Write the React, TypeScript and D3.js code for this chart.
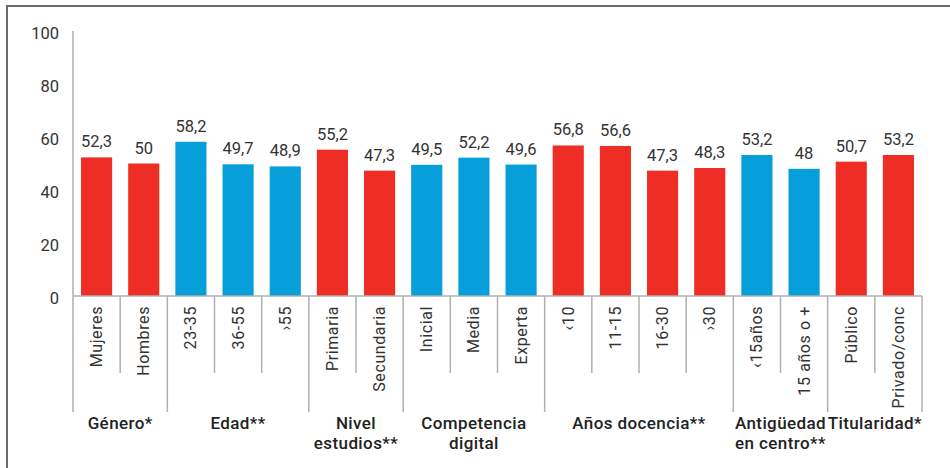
import React from "react";
import * as d3 from "d3";

const categories = ["Mujeres","Hombres","23-35","36-55","›55","Primaria","Secundaria","Inicial","Media","Experta","‹10","11-15","16-30","›30","‹15años","15 años o +","Público","Privado/conc"];
const values = [52.3,50,58.2,49.7,48.9,55.2,47.3,49.5,52.2,49.6,56.8,56.6,47.3,48.3,53.2,48,50.7,53.2];
const groups = [
  { lines: ["Género*"], start: 0, end: 2 },
  { lines: ["Edad**"], start: 2, end: 5 },
  { lines: ["Nivel", "estudios**"], start: 5, end: 7 },
  { lines: ["Competencia", "digital"], start: 7, end: 10 },
  { lines: ["Años docencia**"], start: 10, end: 14 },
  { lines: ["Antigüedad", "en centro**"], start: 14, end: 16 },
  { lines: ["Titularidad*"], start: 16, end: 18 },
];
const yTicks = [0, 20, 40, 60, 80, 100];

const RED = "#EE2D24";
const BLUE = "#079FDA";
const TEXT = "#333333";
const GRID = "#b0b0b0";
const FONT = "Roboto, 'DejaVu Sans', sans-serif";

export default function App() {
  const W = 950, H = 468;
  const x0 = 73, x1 = 922;
  const x = d3.scaleBand<number>().domain(d3.range(categories.length)).range([x0, x1]).paddingInner(0.34).paddingOuter(0.17);
  const y = d3.scaleLinear().domain([0, 100]).range([296, 31]);
  const step = x.step();
  const boundary = (i: number) => x0 + i * step;
  const groupIdx = (i: number) => groups.findIndex(g => i >= g.start && i < g.end);
  const groupStarts = new Set(groups.map(g => g.start).concat([categories.length]));

  return (
    <svg width={W} height={H} style={{ position: "absolute", left: 0, top: 0, background: "#fff" }} fontFamily={FONT}>
      <line x1={6} y1={6} x2={W} y2={6} stroke="#6b6b6b" strokeWidth={2} />
      <line x1={7} y1={6} x2={7} y2={H} stroke="#6b6b6b" strokeWidth={2} />
      {/* y axis */}
      <line x1={x0} y1={y(100)} x2={x0} y2={y(0)} stroke={GRID} strokeWidth={1.5} />
      {yTicks.map(t => (
        <text key={t} x={59} y={y(t) + 2} dy="0.35em" textAnchor="end" fontSize={16.5} fill={TEXT}>{t}</text>
      ))}
      {/* bars */}
      {values.map((v, i) => (
        <g key={i}>
          <rect x={x(i)} y={y(v)} width={x.bandwidth()} height={y(0) - y(v)} fill={groupIdx(i) % 2 === 0 ? RED : BLUE} />
          <text x={(x(i) as number) + x.bandwidth() / 2} y={y(v) - 10} textAnchor="middle" fontSize={16.5} fill={TEXT}>
            {String(v).replace(".", ",")}
          </text>
        </g>
      ))}
      {/* baseline */}
      <line x1={x0} y1={y(0)} x2={x1} y2={y(0)} stroke={GRID} strokeWidth={1.5} />
      {/* separators */}
      {d3.range(categories.length + 1).map(i => (
        <line key={i} x1={boundary(i)} y1={y(0)} x2={boundary(i)} y2={groupStarts.has(i) ? 412 : 373} stroke={GRID} strokeWidth={1.5} />
      ))}
      {/* category labels */}
      {categories.map((c, i) => {
        const cx = (x(i) as number) + x.bandwidth() / 2;
        return (
          <text key={c} transform={`translate(${cx + 5.5},306) rotate(-90)`} textAnchor="end" fontSize={16} letterSpacing={0.6} fill={TEXT}>{c}</text>
        );
      })}
      {/* group labels */}
      {groups.map((g, gi) => {
        const cx = (boundary(g.start) + boundary(g.end)) / 2;
        return (
          <text key={gi} x={cx} y={429} textAnchor="middle" fontSize={17} letterSpacing={0.4} fontWeight={500} fill="#222">
            {g.lines.map((l, li) => (
              <tspan key={li} x={cx} dy={li === 0 ? 0 : 20}>{l}</tspan>
            ))}
          </text>
        );
      })}
    </svg>
  );
}
